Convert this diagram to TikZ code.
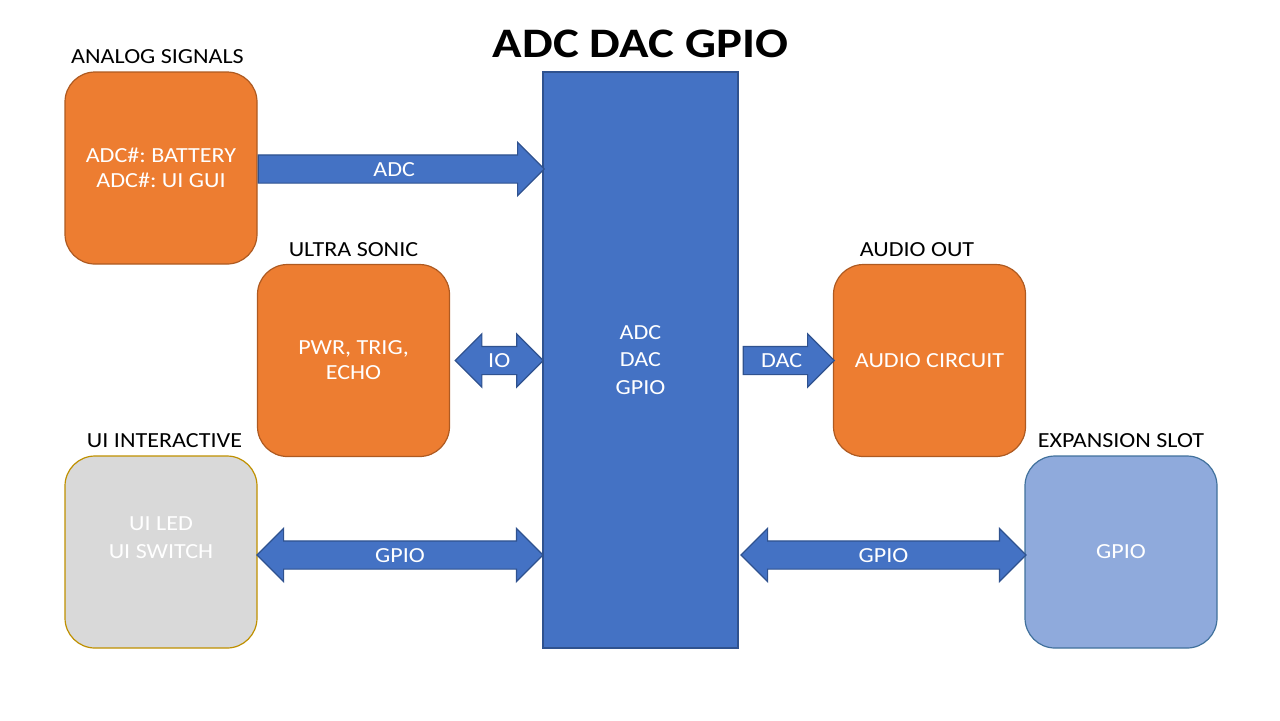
\documentclass[tikz,border=0pt]{standalone}
\usepackage{fontspec}
\setmainfont{Carlito}[FakeStretch=1.12]
\newfontfamily\titlefont{Carlito}[FakeStretch=1.16]
\usetikzlibrary{shapes.arrows,calc}
\frenchspacing

\definecolor{boxorange}{HTML}{ED7D31}
\definecolor{boxorangeline}{HTML}{AE5A21}
\definecolor{coreblue}{HTML}{4472C4}
\definecolor{corebluedark}{HTML}{2F528F}
\definecolor{slotblue}{HTML}{8FAADC}
\definecolor{slotline}{HTML}{41719C}
\definecolor{uigray}{HTML}{D9D9D9}
\definecolor{uigold}{HTML}{BF9000}

\tikzset{
  block/.style={rectangle, rounded corners=15pt, minimum width=96pt,
    minimum height=96pt, line width=0.6pt, text=white, align=center, inner sep=0pt},
  orangeblock/.style={block, fill=boxorange, draw=boxorangeline},
  boxlabel/.style={inner sep=0pt, text=black},
  fatarrow/.style={fill=coreblue, draw=corebluedark, line width=0.6pt, text=white,
    inner ysep=0pt, inner xsep=2pt, text height=10.3pt, text depth=3.2pt},
  onearrow/.style={fatarrow, single arrow, single arrow head extend=6.25pt, anchor=tail},
  twoarrow/.style={fatarrow, double arrow, double arrow head extend=6.25pt}
}

\begin{document}
\begin{tikzpicture}[x=0.5pt, y=-0.5pt, label distance=3.5pt,
    font=\fontsize{10.75pt}{12.5pt}\selectfont]
  \useasboundingbox (0, 0) rectangle (1280, 720);

  % main block
  \node[rectangle, fill=coreblue, draw=corebluedark, line width=0.6pt, text=white,
    align=center, minimum width=97.5pt, minimum height=288pt,
    font=\fontsize{10.75pt}{13.75pt}\selectfont] (core) at (640.5, 360) {ADC\\DAC\\GPIO};
  \node[anchor=base, font=\fontsize{21pt}{25pt}\titlefont\bfseries] (title)
    at ([yshift=6.75pt]core.north) {ADC DAC GPIO};

  % boxes round it
  \node[orangeblock, label={[boxlabel, xshift=-1.75pt]above:ANALOG SIGNALS}] (analog)
    at (161, 168) {ADC\#: BATTERY\\ADC\#: UI GUI};
  \node[orangeblock, label={[boxlabel]above:ULTRA SONIC}] (ultra)
    at (353.5, 360.5) {PWR, TRIG,\\ECHO};
  \node[orangeblock, label={[boxlabel, xshift=-6.25pt]above:AUDIO OUT}] (audio)
    at (929.5, 360.5) {AUDIO CIRCUIT};
  \node[block, fill=uigray, draw=uigold, label={[boxlabel, xshift=1.75pt]above:UI INTERACTIVE},
    font=\fontsize{10.75pt}{14pt}\selectfont] (uiint)
    at (161, 552) {UI LED\\UI SWITCH\\\mbox{}};
  \node[block, fill=slotblue, draw=slotline, label={[boxlabel]above:EXPANSION SLOT}] (slot)
    at (1121, 552) {GPIO};

  % block arrows
  \node[onearrow, minimum height=143pt] (adcarrow)
    at ([yshift=-0.5pt]analog.east) {ADC};
  \node[twoarrow, minimum height=44pt] (ioarrow)
    at ($(ultra.east)!0.5!(core.west |- ultra.east) + (3, 0)$) {IO};
  \node[onearrow, minimum height=45.5pt] (dacarrow)
    at ([xshift=2pt]core.east |- audio.west) {DAC};
  \node[twoarrow, minimum height=143pt] (gpioleft)
    at ($(uiint.east)!0.5!(core.west |- uiint.east) + (0, 3)$) {GPIO};
  \node[twoarrow, minimum height=142.5pt] (gpioright)
    at ($(core.east |- slot.west)!0.5!(slot.west) + (2, 3)$) {GPIO};
\end{tikzpicture}
\end{document}
